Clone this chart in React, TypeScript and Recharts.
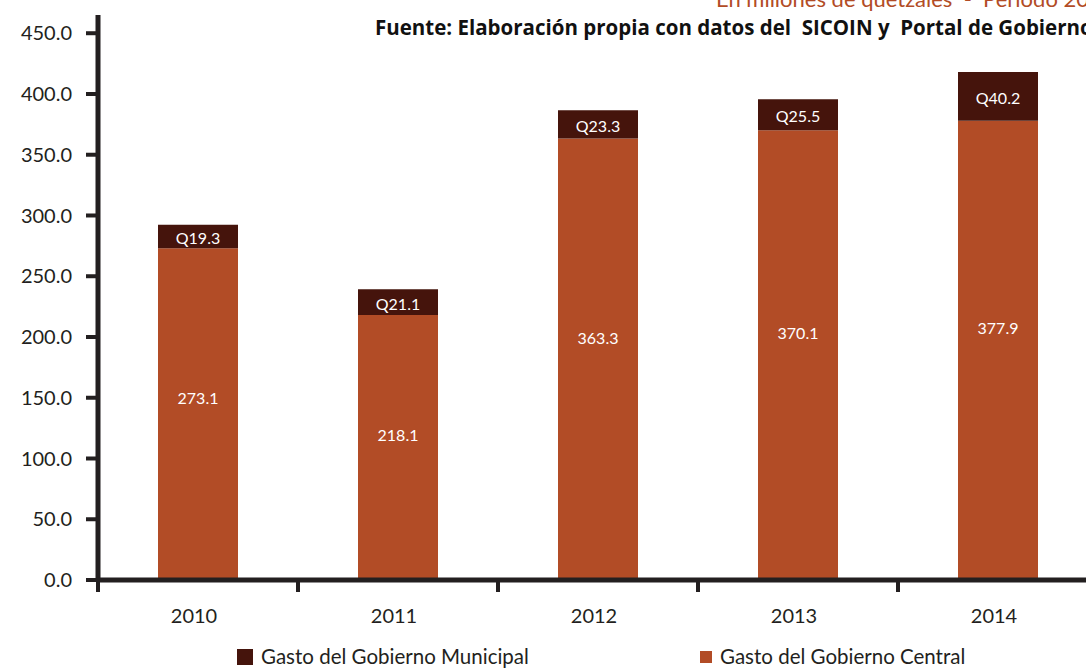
import React from 'react';
import { BarChart, Bar, XAxis, YAxis, LabelList } from 'recharts';

const years = ['2010', '2011', '2012', '2013', '2014'];
const centralValues = [273.1, 218.1, 363.3, 370.1, 377.9];
const municipalValues = [19.3, 21.1, 23.3, 25.5, 40.2];
const yTicks = [0, 50, 100, 150, 200, 250, 300, 350, 400, 450];

const seriesNames = { municipal: 'Gasto del Gobierno Municipal', central: 'Gasto del Gobierno Central' };
const titleText = 'Fuente: Elaboración propia con datos del  SICOIN y  Portal de Gobierno';
const subtitleText = 'En millones de quetzales  -  Período 2010-2014';

const data = years.map((year, i) => ({
  year,
  central: centralValues[i],
  municipal: municipalValues[i],
}));

const CENTRAL = '#B24C26';
const MUNICIPAL = '#45140C';
const INK = '#231F20';
const FONT = 'Lato, "Open Sans", sans-serif';
const TITLE_FONT = '"Open Sans", Lato, sans-serif';

const CHART_W = 1110;
const CHART_H = 668;
const MARGIN = { top: 15, right: 12, bottom: 48, left: 0 };
const Y_W = 98;
const HALF_BAND = (CHART_W - MARGIN.right - MARGIN.left - Y_W) / years.length / 2;

const XTick = (props: any) => {
  const { x, y, payload, index } = props;
  return (
    <g>
      <line x1={x - HALF_BAND} x2={x - HALF_BAND} y1={y} y2={y + 12} stroke={INK} strokeWidth={4} />
      {index === years.length - 1 && (
        <line x1={x + HALF_BAND} x2={x + HALF_BAND} y1={y} y2={y + 12} stroke={INK} strokeWidth={4} />
      )}
      <text x={x - 4} y={y + 43} textAnchor="middle" fontSize={20} fill={INK} fontFamily={FONT}>
        {payload.value}
      </text>
    </g>
  );
};

const CentralLabel = (props: any) => {
  const { x, y, width, height, value } = props;
  return (
    <text
      x={x + width / 2}
      y={y + height * 0.45}
      textAnchor="middle"
      dominantBaseline="central"
      fontSize={16}
      fill="#ffffff"
      fontFamily={FONT}
    >
      {Number(value).toFixed(1)}
    </text>
  );
};

const MunicipalLabel = (props: any) => {
  const { x, y, width, height, value } = props;
  return (
    <text
      x={x + width / 2}
      y={y + height / 2 + 1}
      textAnchor="middle"
      dominantBaseline="central"
      fontSize={16}
      fill="#ffffff"
      fontFamily={FONT}
    >
      {'Q' + Number(value).toFixed(1)}
    </text>
  );
};

export default function App() {
  return (
    <div
      style={{
        position: 'absolute',
        left: 0,
        top: 0,
        width: 1086,
        height: 668,
        overflow: 'hidden',
        background: '#ffffff',
        fontFamily: FONT,
      }}
    >
      <BarChart width={CHART_W} height={CHART_H} data={data} margin={MARGIN} barSize={80}>
        <YAxis
          width={Y_W}
          domain={[0, 465]}
          ticks={yTicks}
          interval={0}
          axisLine={{ stroke: INK, strokeWidth: 5 }}
          tickLine={{ stroke: INK, strokeWidth: 4 }}
          tickSize={12}
          tickMargin={14}
          tick={{ fontSize: 20, fill: INK, fontFamily: FONT }}
          tickFormatter={(v: number) => v.toFixed(1)}
        />
        <XAxis
          dataKey="year"
          height={40}
          axisLine={{ stroke: INK, strokeWidth: 5 }}
          tickLine={false}
          tickSize={0}
          tickMargin={0}
          tick={<XTick />}
          interval={0}
        />
        <Bar dataKey="central" stackId="a" fill={CENTRAL} isAnimationActive={false}>
          <LabelList dataKey="central" content={<CentralLabel />} />
        </Bar>
        <Bar dataKey="municipal" stackId="a" fill={MUNICIPAL} isAnimationActive={false}>
          <LabelList dataKey="municipal" content={<MunicipalLabel />} />
        </Bar>
      </BarChart>
      <svg
        width={1086}
        height={668}
        style={{ position: 'absolute', left: 0, top: 0, pointerEvents: 'none', whiteSpace: 'pre' }}
      >
        <text x={716} y={7} fontSize={22} fill={CENTRAL} fontFamily={FONT} xmlSpace="preserve" style={{ whiteSpace: 'pre' }}>
          {subtitleText}
        </text>
        <text x={375} y={35} fontSize={20.5} fontWeight={700} fill="#111111" fontFamily={TITLE_FONT} xmlSpace="preserve" style={{ whiteSpace: 'pre' }}>
          {titleText}
        </text>
        <rect x={237} y={649} width={16} height={16} fill={MUNICIPAL} />
        <text x={261} y={664} fontSize={20.5} fill={INK} fontFamily={FONT}>
          {seriesNames.municipal}
        </text>
        <rect x={700} y={651} width={12} height={12} fill={CENTRAL} />
        <text x={720} y={664} fontSize={20.5} fill={INK} fontFamily={FONT}>
          {seriesNames.central}
        </text>
      </svg>
    </div>
  );
}
